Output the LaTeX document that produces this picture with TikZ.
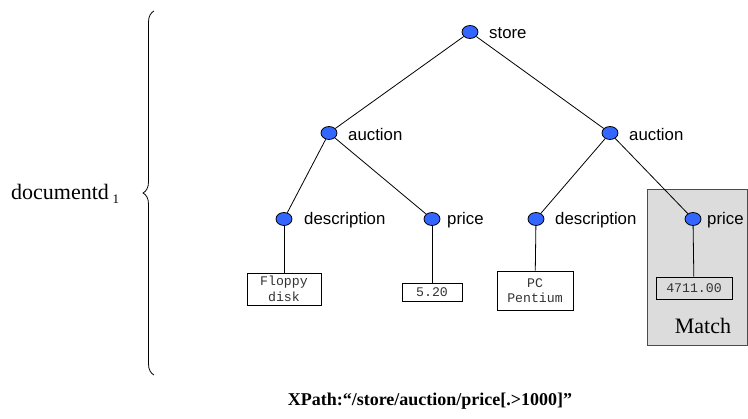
\documentclass[tikz,border=0pt]{standalone}
\usepackage{fontspec}
\setmainfont{Liberation Serif}
\newfontfamily\arialf{Liberation Sans}
\newfontfamily\courf{Liberation Mono}
\usetikzlibrary{shapes.geometric,decorations.pathreplacing}
\tikzset{
  elem/.style={ellipse,draw=black,line width=0.8pt,fill=nodeblue,minimum width=16pt,minimum height=13pt,inner sep=0pt},
  lbl/.style={anchor=west,font=\arialf\fontsize{16.8}{18}\selectfont,inner sep=0pt},
  valbox/.style={draw=black,line width=0.8pt,fill=white,font=\courf\fontsize{13.2}{15.5}\selectfont,text=black!80,align=center,inner sep=0pt},
  edge/.style={line width=0.8pt}
}
\definecolor{nodeblue}{HTML}{3366FF}
\definecolor{matchgray}{HTML}{DCDCDC}
\begin{document}
\begin{tikzpicture}[x=1pt,y=-1pt]
\useasboundingbox (0,0) rectangle (748,419);
% match box
\node[draw=black!70,fill=matchgray,line width=0.8pt,minimum width=100pt,minimum height=156pt,inner sep=0pt] (match) at (697,267) {};
\node[font=\fontsize{22}{24}\selectfont,inner sep=0pt] (matchtxt) at (703,326) {Match};
% tree nodes
\node[elem] (store) at (470,32) {};
\node[elem] (a1) at (329,133) {};
\node[elem] (a2) at (610,133) {};
\node[elem] (d1) at (284,219) {};
\node[elem] (p1) at (432,219) {};
\node[elem] (d2) at (536,219) {};
\node[elem] (p2) at (693,219) {};
% labels
\node[lbl] (lstore) at (489,33) {store};
\node[lbl] (la1) at (348,134) {auction};
\node[lbl] (la2) at (629,134) {auction};
\node[lbl] (ld1) at (304,220) {description};
\node[lbl] (lp1) at (447,220) {price};
\node[lbl] (ld2) at (555,220) {description};
\node[lbl] (lp2) at (707,220) {price};
% value boxes
\node[valbox,minimum width=74pt,minimum height=32pt] (v1) at (284,289) {Floppy\\disk};
\node[valbox,minimum width=60pt,minimum height=18pt] (v2) at (432,292) {5.20};
\node[valbox,minimum width=76pt,minimum height=39pt] (v3) at (535,290.5) {PC\\Pentium};
\node[valbox,fill=matchgray,minimum width=76pt,minimum height=22pt] (v4) at (694,288) {4711.00};
% edges
\draw[edge] (store) -- (a1);
\draw[edge] (store) -- (a2);
\draw[edge] (a1) -- (d1);
\draw[edge] (a1) -- (p1);
\draw[edge] (a2) -- (d2);
\draw[edge] (a2) -- (p2);
\draw[edge] (d1) -- (v1);
\draw[edge] (p1) -- (v2);
\draw[edge] (d2) -- (v3);
\draw[edge] (p2) -- (v4);
% brace
\coordinate (bt) at (154,11);
\coordinate (bb) at (154,375);
\draw[line width=0.8pt,decorate,decoration={brace,amplitude=11pt}] (bb) -- (bt);
\node[anchor=base west,inner sep=0pt,font=\fontsize{22}{24}\selectfont] (doc) at (11,200) {documentd\,{\fontsize{13}{15}\selectfont\raisebox{-4pt}{1}}};
% xpath
\node[anchor=base,inner sep=0pt,font=\bfseries\fontsize{18}{20}\selectfont] (xpath) at (430,406) {XPath:“/store/auction/price[.>1000]”};
\end{tikzpicture}
\end{document}
